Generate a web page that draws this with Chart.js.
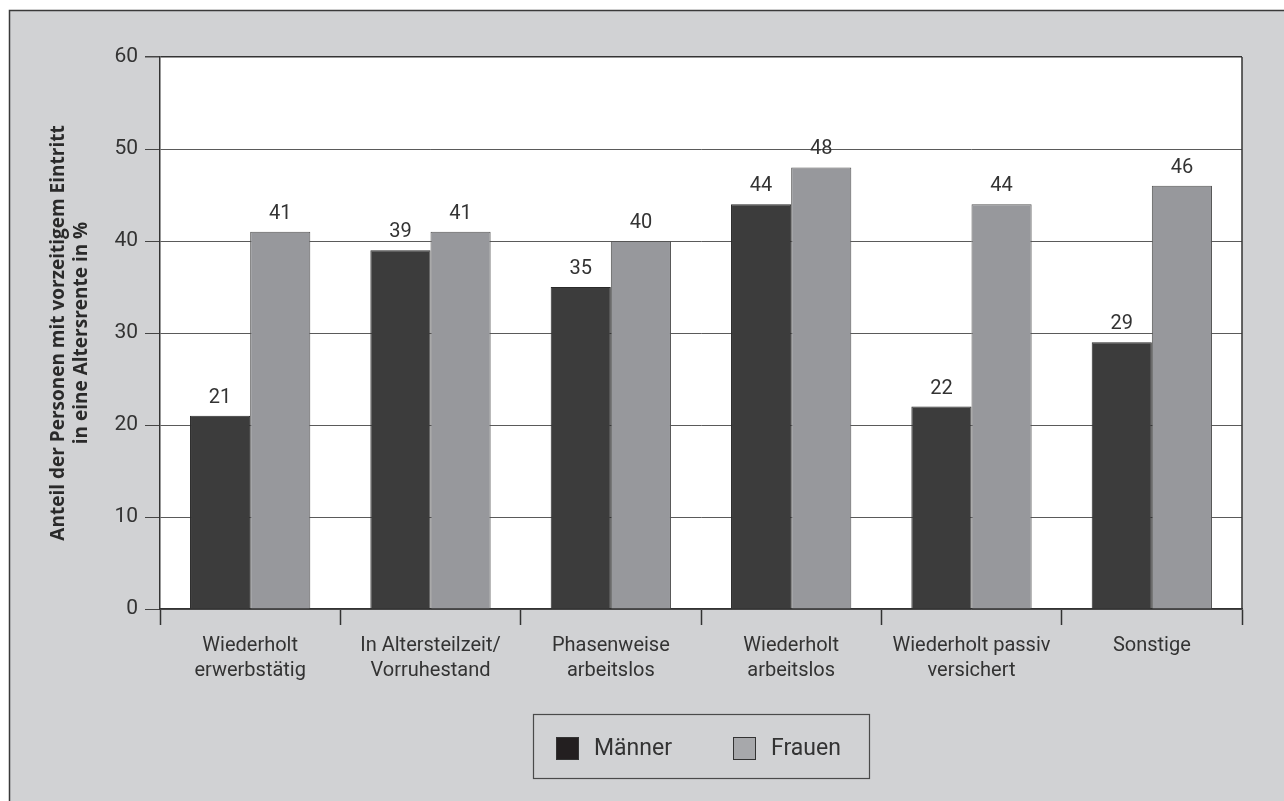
<!DOCTYPE html>
<html lang="de">
<head>
<meta charset="utf-8">
<script src="https://cdn.jsdelivr.net/npm/chart.js@4/dist/chart.umd.min.js"></script>
<style>
  html, body { margin: 0; padding: 0; background: #ffffff; }
  #wrap { width: 1284px; height: 801px; }
</style>
</head>
<body>
<div id="wrap"><canvas id="c" width="1284" height="801"></canvas></div>
<script>
// Erwerbsverlauf vor dem Renteneintritt
const categories = [
  ['Wiederholt', 'erwerbstätig'],
  ['In Altersteilzeit/', 'Vorruhestand'],
  ['Phasenweise', 'arbeitslos'],
  ['Wiederholt', 'arbeitslos'],
  ['Wiederholt passiv', 'versichert'],
  ['Sonstige']
];
const maenner = [21, 39, 35, 44, 22, 29];
const frauen = [41, 41, 40, 48, 44, 46];
const seriesNames = ['Männer', 'Frauen'];
const yTicks = [0, 10, 20, 30, 40, 50, 60];
const yTitle = ['Anteil der Personen mit vorzeitigem Eintritt', 'in eine Altersrente in %'];

const FONT = 'Roboto, "DejaVu Sans", sans-serif';
const TEXT = '#333333';
const PAGE_BG = '#d1d2d4';

// Frame, plot background, outer border
const framePlugin = {
  id: 'frame',
  beforeDraw(chart) {
    const { ctx, width, height, chartArea: a } = chart;
    ctx.save();
    ctx.fillStyle = '#ffffff';
    ctx.fillRect(0, 0, width, height);
    ctx.fillStyle = PAGE_BG;
    ctx.fillRect(9, 10, width - 9, height - 10);
    ctx.strokeStyle = '#3a3a3a';
    ctx.lineWidth = 1.5;
    ctx.beginPath();
    ctx.moveTo(9.5, height);
    ctx.lineTo(9.5, 10.5);
    ctx.lineTo(width, 10.5);
    ctx.stroke();
    ctx.fillStyle = '#ffffff';
    ctx.fillRect(a.left, a.top, a.right - a.left, a.bottom - a.top);
    ctx.restore();
  },
  afterDraw(chart) {
    const { ctx, chartArea: a } = chart;
    ctx.save();
    // right edge of the plot box
    ctx.strokeStyle = '#333333';
    ctx.lineWidth = 1.5;
    ctx.beginPath();
    ctx.moveTo(a.right, a.top);
    ctx.lineTo(a.right, a.bottom);
    ctx.stroke();

    // rotated y-axis title
    ctx.translate(70, (a.top + a.bottom) / 2);
    ctx.rotate(-Math.PI / 2);
    ctx.fillStyle = '#2a2a2a';
    ctx.font = 'bold 19px "Open Sans", "Liberation Sans", Arial, sans-serif';
    ctx.textAlign = 'center';
    ctx.textBaseline = 'middle';
    ctx.fillText(yTitle[0], 0, -11.5);
    ctx.fillText(yTitle[1], 0, 11.5);
    ctx.restore();

    // legend box
    const box = { x: 533.5, y: 714.5, w: 336, h: 64 };
    ctx.save();
    ctx.strokeStyle = '#4a4a4a';
    ctx.lineWidth = 1.2;
    ctx.strokeRect(box.x, box.y, box.w, box.h);
    const items = chart.data.datasets.map((ds, i) => ({
      label: ds.label,
      fill: ds.legendColor,
      x: [556, 733][i]
    }));
    ctx.font = '23px ' + FONT;
    ctx.textBaseline = 'middle';
    ctx.textAlign = 'left';
    items.forEach(it => {
      ctx.fillStyle = it.fill;
      ctx.fillRect(it.x, 737, 22, 22);
      ctx.strokeStyle = '#333333';
      ctx.lineWidth = 1;
      ctx.strokeRect(it.x + 0.5, 737.5, 22, 22);
      ctx.fillStyle = TEXT;
      ctx.fillText(it.label, it.x + 38, 749);
    });
    ctx.restore();
  }
};

// Value labels above each bar
const valueLabels = {
  id: 'valueLabels',
  afterDatasetsDraw(chart) {
    const { ctx } = chart;
    ctx.save();
    ctx.fillStyle = TEXT;
    ctx.font = '20px ' + FONT;
    ctx.textAlign = 'center';
    ctx.textBaseline = 'alphabetic';
    chart.data.datasets.forEach((ds, i) => {
      chart.getDatasetMeta(i).data.forEach((bar, j) => {
        ctx.fillText(String(ds.data[j]), bar.x, bar.y - 13);
      });
    });
    ctx.restore();
  }
};

new Chart(document.getElementById('c'), {
  type: 'bar',
  data: {
    labels: categories,
    datasets: [
      {
        label: seriesNames[0],
        data: maenner,
        backgroundColor: '#3c3c3c',
        borderColor: '#2a2a2a',
        legendColor: '#231f20',
        borderWidth: 1
      },
      {
        label: seriesNames[1],
        data: frauen,
        backgroundColor: '#97989c',
        borderColor: '#555555',
        legendColor: '#a7a8ab',
        borderWidth: 1
      }
    ]
  },
  options: {
    responsive: false,
    animation: false,
    devicePixelRatio: 1,
    categoryPercentage: 0.667,
    barPercentage: 1.0,
    layout: { padding: { top: 57, right: 42, left: 0, bottom: 0 } },
    plugins: {
      legend: { display: false },
      tooltip: { enabled: false }
    },
    scales: {
      x: {
        offset: true,
        grid: {
          offset: true,
          drawOnChartArea: false,
          drawTicks: true,
          tickLength: 16,
          tickColor: '#333333',
          tickWidth: 1.5
        },
        border: { color: '#333333', width: 1.5 },
        ticks: {
          color: TEXT,
          font: { family: FONT, size: 20, lineHeight: 1.25 },
          padding: 8,
          maxRotation: 0,
          autoSkip: false
        },
        afterFit(scale) { scale.height = 801 - 609; }
      },
      y: {
        min: 0,
        max: 60,
        afterBuildTicks(scale) { scale.ticks = yTicks.map(v => ({ value: v })); },
        grid: {
          color: ctx => (ctx.tick && ctx.tick.value === 60 ? '#333333' : '#5a5a5a'),
          lineWidth: ctx => (ctx.tick && ctx.tick.value === 60 ? 1.5 : 1),
          tickLength: 15,
          tickColor: '#444444'
        },
        border: { color: '#333333', width: 1.5 },
        ticks: {
          color: TEXT,
          font: { family: FONT, size: 21 },
          padding: 7
        },
        afterFit(scale) { scale.width = 160; }
      }
    }
  },
  plugins: [framePlugin, valueLabels]
});
</script>
</body>
</html>
